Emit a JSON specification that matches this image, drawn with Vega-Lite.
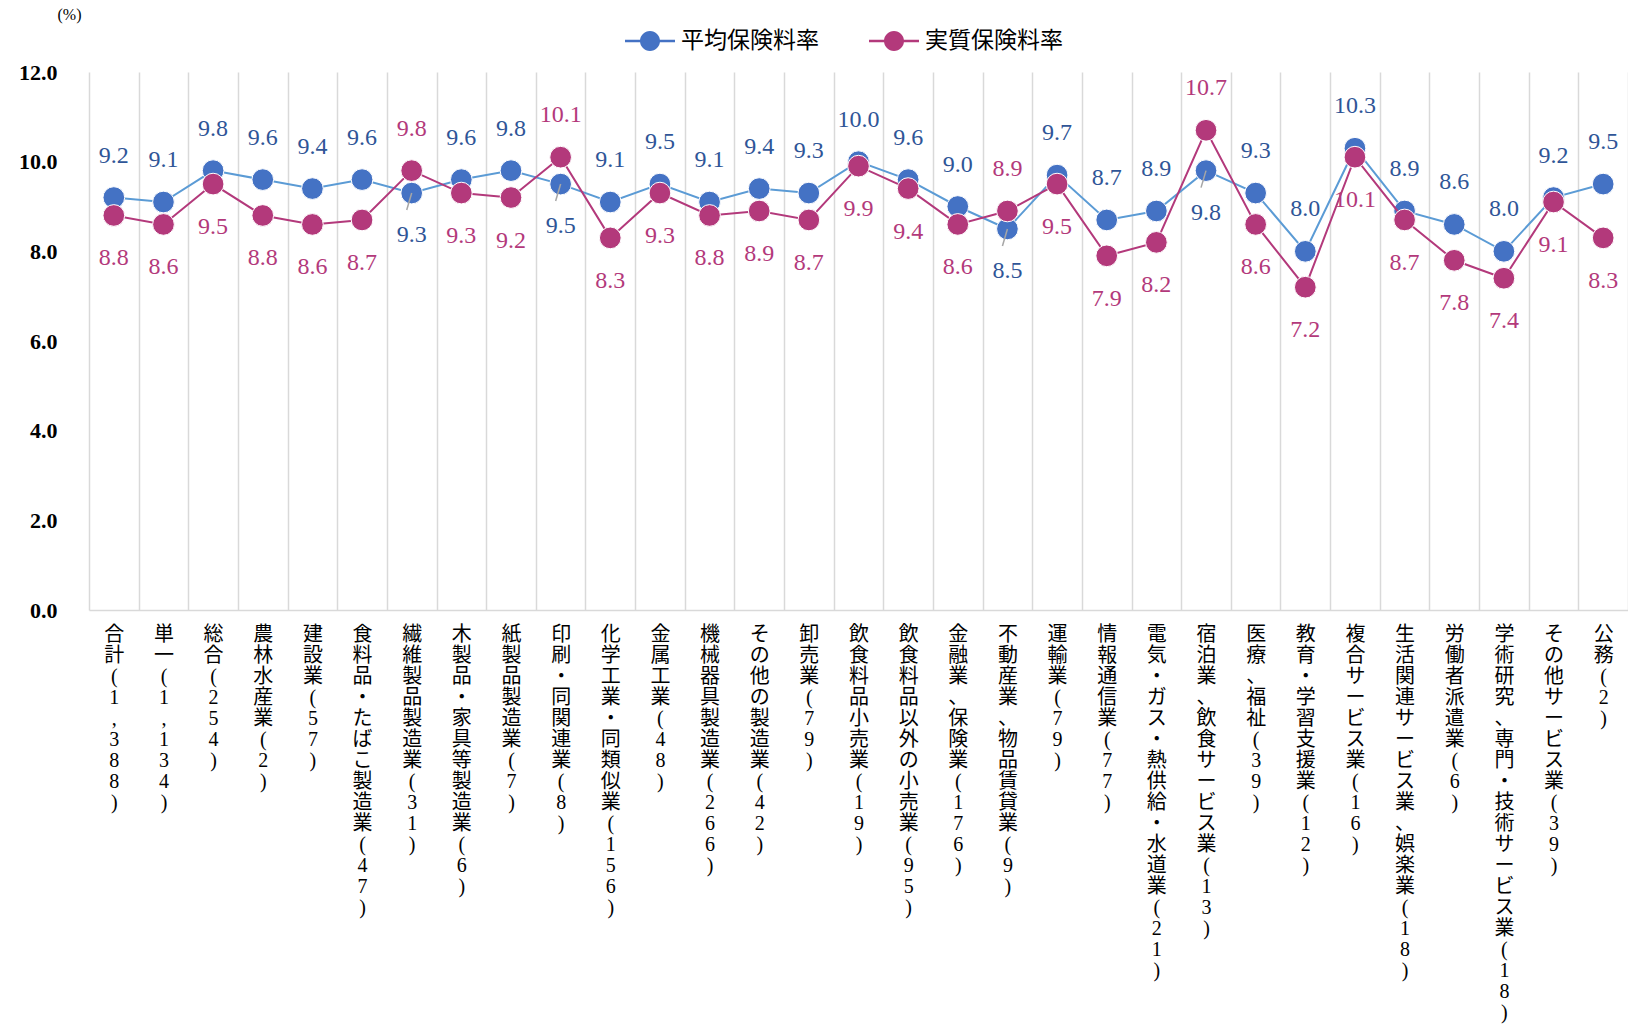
{
  "$schema": "https://vega.github.io/schema/vega-lite/v6.json",
  "autosize": {"type": "none"},
  "width": 1539,
  "height": 538,
  "padding": {"left": 89, "top": 72, "right": 0, "bottom": 422},
  "background": "white",
  "config": {
    "view": {"stroke": null},
    "font": "Liberation Serif, Noto Sans CJK JP",
    "axis": {"labelFont": "Liberation Serif, Noto Sans CJK JP", "titleFont": "Liberation Serif, Noto Sans CJK JP"},
    "legend": {"labelFont": "Noto Sans CJK JP"}
  },
  "data": {
    "values": [
      {"c": "合計(1,388)", "avg": 9.2, "real": 8.8},
      {"c": "単一(1,134)", "avg": 9.1, "real": 8.6},
      {"c": "総合(254)", "avg": 9.8, "real": 9.5},
      {"c": "農林水産業(2)", "avg": 9.6, "real": 8.8},
      {"c": "建設業(57)", "avg": 9.4, "real": 8.6},
      {"c": "食料品・たばこ製造業(47)", "avg": 9.6, "real": 8.7},
      {"c": "繊維製品製造業(31)", "avg": 9.3, "real": 9.8},
      {"c": "木製品・家具等製造業(6)", "avg": 9.6, "real": 9.3},
      {"c": "紙製品製造業(7)", "avg": 9.8, "real": 9.2},
      {"c": "印刷・同関連業(8)", "avg": 9.5, "real": 10.1},
      {"c": "化学工業・同類似業(156)", "avg": 9.1, "real": 8.3},
      {"c": "金属工業(48)", "avg": 9.5, "real": 9.3},
      {"c": "機械器具製造業(266)", "avg": 9.1, "real": 8.8},
      {"c": "その他の製造業(42)", "avg": 9.4, "real": 8.9},
      {"c": "卸売業(79)", "avg": 9.3, "real": 8.7},
      {"c": "飲食料品小売業(19)", "avg": 10.0, "real": 9.9},
      {"c": "飲食料品以外の小売業(95)", "avg": 9.6, "real": 9.4},
      {"c": "金融業、保険業(176)", "avg": 9.0, "real": 8.6},
      {"c": "不動産業、物品賃貸業(9)", "avg": 8.5, "real": 8.9},
      {"c": "運輸業(79)", "avg": 9.7, "real": 9.5},
      {"c": "情報通信業(77)", "avg": 8.7, "real": 7.9},
      {"c": "電気・ガス・熱供給・水道業(21)", "avg": 8.9, "real": 8.2},
      {"c": "宿泊業、飲食サービス業(13)", "avg": 9.8, "real": 10.7},
      {"c": "医療、福祉(39)", "avg": 9.3, "real": 8.6},
      {"c": "教育・学習支援業(12)", "avg": 8.0, "real": 7.2},
      {"c": "複合サービス業(16)", "avg": 10.3, "real": 10.1},
      {"c": "生活関連サービス業、娯楽業(18)", "avg": 8.9, "real": 8.7},
      {"c": "労働者派遣業(6)", "avg": 8.6, "real": 7.8},
      {"c": "学術研究、専門・技術サービス業(18)", "avg": 8.0, "real": 7.4},
      {"c": "その他サービス業(39)", "avg": 9.2, "real": 9.1},
      {"c": "公務(2)", "avg": 9.5, "real": 8.3}
    ]
  },
  "encoding": {
    "x": {
      "field": "c", "type": "nominal", "sort": null,
      "scale": {"paddingInner": 0, "paddingOuter": 0},
      "axis": {
        "title": null,
        "labelAngle": 0,
        "labelAlign": "center",
        "labelBaseline": "top",
        "labelPadding": 14,
        "labelFontSize": 20,
        "labelLineHeight": 21,
        "labelColor": "#000000",
        "labelOverlap": false,
        "labelLimit": 1000,
        "labelExpr": "split(datum.label, '')",
        "ticks": false,
        "tickBand": "extent",
        "grid": true,
        "gridColor": "#D9D9D9",
        "gridWidth": 1.5,
        "domainColor": "#D9D9D9",
        "domainWidth": 1.5
      }
    }
  },
  "layer": [
    {
      "mark": {"type": "line", "color": "#5B9BD5", "strokeWidth": 2},
      "encoding": {
        "y": {
          "field": "avg", "type": "quantitative",
          "scale": {"domain": [0, 12], "nice": false},
          "axis": {
            "title": "(%)",
            "titleAngle": 0,
            "titleX": -20,
            "titleY": -58,
            "titleAlign": "center",
            "titleBaseline": "middle",
            "titleFontSize": 16,
            "titleFontWeight": "normal",
            "titleColor": "#000000",
            "values": [0, 2, 4, 6, 8, 10, 12],
            "format": ".1f",
            "labelFontSize": 22,
            "labelFontWeight": "bold",
            "labelColor": "#000000",
            "labelPadding": 32,
            "domain": false,
            "ticks": false,
            "grid": false
          }
        }
      }
    },
    {
      "mark": {"type": "point", "filled": true, "size": 470, "opacity": 1, "stroke": "white", "strokeWidth": 1},
      "encoding": {
        "y": {"field": "avg", "type": "quantitative"},
        "color": {
          "datum": "平均保険料率",
          "type": "nominal",
          "scale": {"domain": ["平均保険料率", "実質保険料率"], "range": ["#4472C4", "#B3397B"]},
          "legend": {
            "title": null,
            "orient": "none",
            "direction": "horizontal",
            "legendX": 536,
            "legendY": -56,
            "padding": 0,
            "symbolType": "M0.4,0 A0.4,0.4 0 1,1 -0.4,0 A0.4,0.4 0 1,1 0.4,0 Z M-1,-0.05 L1,-0.05 L1,0.05 L-1,0.05 Z",
            "symbolSize": 2500,
            "symbolStrokeWidth": 0,
            "symbolOpacity": 1,
            "labelFontSize": 23,
            "labelColor": "#000000",
            "labelOffset": 6,
            "columnPadding": 50
          }
        }
      }
    },
    {
      "mark": {"type": "line", "color": "#B3397B", "strokeWidth": 2},
      "encoding": {"y": {"field": "real", "type": "quantitative"}}
    },
    {
      "mark": {"type": "point", "filled": true, "size": 470, "opacity": 1, "stroke": "white", "strokeWidth": 1},
      "encoding": {
        "y": {"field": "real", "type": "quantitative"},
        "color": {"datum": "実質保険料率", "type": "nominal"}
      }
    },
    {
      "transform": [{"filter": "datum.avg < datum.real"}],
      "mark": {"type": "rule", "color": "#A6A6A6", "strokeWidth": 1.5, "x2Offset": -5, "y2Offset": 17},
      "encoding": {
        "y": {"field": "avg", "type": "quantitative"},
        "y2": {"field": "avg"},
        "x2": {"field": "c"}
      }
    },
    {
      "transform": [{"filter": "datum.avg >= datum.real"}],
      "mark": {"type": "text", "dy": -42, "fontSize": 24, "color": "#2F5597", "baseline": "middle"},
      "encoding": {"y": {"field": "avg", "type": "quantitative"}, "text": {"field": "avg", "type": "quantitative", "format": ".1f"}}
    },
    {
      "transform": [{"filter": "datum.avg < datum.real"}],
      "mark": {"type": "text", "dy": 42, "fontSize": 24, "color": "#2F5597", "baseline": "middle"},
      "encoding": {"y": {"field": "avg", "type": "quantitative"}, "text": {"field": "avg", "type": "quantitative", "format": ".1f"}}
    },
    {
      "transform": [{"filter": "datum.avg >= datum.real"}],
      "mark": {"type": "text", "dy": 43, "fontSize": 24, "color": "#B3397B", "baseline": "middle"},
      "encoding": {"y": {"field": "real", "type": "quantitative"}, "text": {"field": "real", "type": "quantitative", "format": ".1f"}}
    },
    {
      "transform": [{"filter": "datum.avg < datum.real"}],
      "mark": {"type": "text", "dy": -42, "fontSize": 24, "color": "#B3397B", "baseline": "middle"},
      "encoding": {"y": {"field": "real", "type": "quantitative"}, "text": {"field": "real", "type": "quantitative", "format": ".1f"}}
    }
  ]
}
